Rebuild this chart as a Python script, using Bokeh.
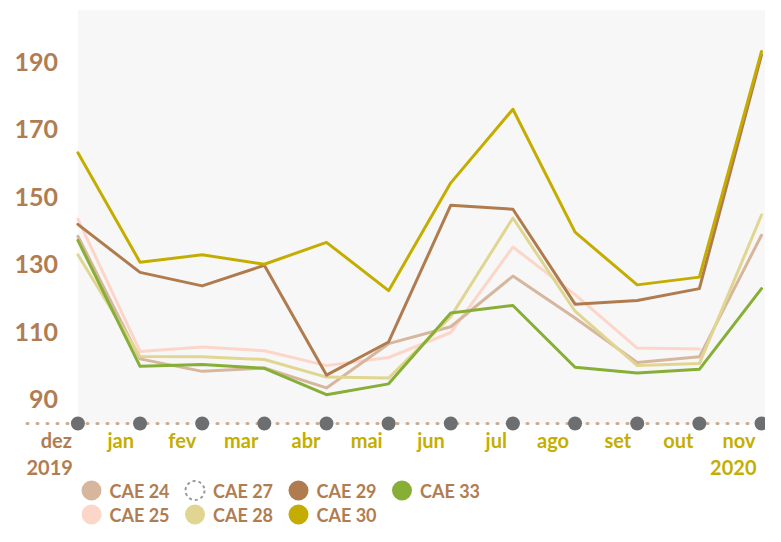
import numpy as np
from bokeh.plotting import figure
from bokeh.models import ColumnDataSource, Range1d
from bokeh.core.properties import value
from bokeh.embed import file_html
from bokeh.resources import INLINE

# ---------------- data ----------------
months = ["dez", "jan", "fev", "mar", "abr", "mai", "jun", "jul", "ago", "set", "out", "nov"]
year_labels = ["2019", "2020"]
y_ticks = [90, 110, 130, 150, 170, 190]

cae24 = [138.3, 102.0, 98.3, 99.3, 93.4, 106.5, 111.5, 126.5, 114.1, 100.9, 102.6, 138.6]
cae25 = [143.4, 104.2, 105.5, 104.4, 100.0, 102.4, 109.8, 135.1, 121.0, 105.2, 104.9, None]
cae28 = [132.8, 102.7, 102.6, 101.8, 96.6, 96.3, 114.5, 143.7, 116.1, 100.0, 100.6, 144.6]
cae29 = [141.8, 127.6, 123.6, 129.7, 97.2, 107.0, 147.5, 146.3, 118.2, 119.3, 122.8, 192.0]
cae30 = [163.0, 130.6, 132.8, 130.0, 136.5, 122.2, 154.1, 175.9, 139.5, 123.9, 126.2, 193.0]
cae33 = [137.1, 99.8, 100.3, 99.2, 91.4, 94.6, 115.6, 117.8, 99.5, 97.8, 98.9, 122.8]

series_colors = {
    "CAE 24": "#d6b79d",
    "CAE 25": "#fcd6c9",
    "CAE 27": "#9a9a9a",
    "CAE 28": "#e0d691",
    "CAE 29": "#b07c4f",
    "CAE 30": "#c4ad00",
    "CAE 33": "#87ae36",
}
series_values = {
    "CAE 24": cae24,
    "CAE 25": cae25,
    "CAE 27": None,
    "CAE 28": cae28,
    "CAE 29": cae29,
    "CAE 30": cae30,
    "CAE 33": cae33,
}
legend_rows = [["CAE 24", "CAE 27", "CAE 29", "CAE 33"],
               ["CAE 25", "CAE 28", "CAE 30"]]

# ---------------- layout helpers ----------------
W, H = 765, 526
X0 = 77.4            # px of first month
X_LAST = 761.0       # px of last month
PX_X = (X_LAST - X0) / 11
Y190 = 61.1          # px (from top) of value 190
PX_Y = 3.378         # px per unit

def vy(px_from_top):
    return 190 - (px_from_top - Y190) / PX_Y

def vx(px_from_left):
    return (px_from_left - X0) / PX_X

BROWN = "#b07d52"
OLIVE = "#c4ae00"
FONT = value("Lato")

p = figure(width=W, height=H, output_backend="svg", toolbar_location=None,
           x_range=Range1d(vx(0), vx(W)), y_range=Range1d(vy(H), vy(0)),
           min_border=0, min_border_left=0, min_border_right=0,
           min_border_top=0, min_border_bottom=0)
p.axis.visible = False
p.grid.visible = False
p.outline_line_color = None
p.background_fill_color = "white"
p.border_fill_color = "white"

n = len(months)
idx = np.arange(n)

# plot background
p.quad(left=[0], right=[vx(W) + 1], bottom=[vy(424)], top=[vy(9.7)],
       fill_color="#f7f7f7", line_color=None)

# lines
for name in ["CAE 25", "CAE 24", "CAE 28", "CAE 33", "CAE 29", "CAE 30"]:
    vals = [np.nan if v is None else v for v in series_values[name]]
    src = ColumnDataSource(dict(x=idx, y=vals))
    p.line("x", "y", source=src, line_color=series_colors[name], line_width=3,
           line_join="round", line_cap="round")

# dotted baseline + month markers
base_y = vy(423)
p.line([vx(26.5), vx(W) + 1], [base_y, base_y], line_color="#c9ab8e",
       line_width=3, line_dash="1 9", line_cap="round")
p.scatter(idx, [base_y] * n, size=14, fill_color="#6d6e70", line_color=None)

# month labels
month_colors = [BROWN] + [OLIVE] * (n - 1)
msrc = ColumnDataSource(dict(x=idx, y=[vy(439)] * n, t=months, c=month_colors))
p.text("x", "y", text="t", source=msrc, text_color="c", text_font=FONT,
       text_font_style="bold", text_font_size="20px", text_align="right",
       text_baseline="middle", x_offset=-6)

# year labels
ysrc = ColumnDataSource(dict(x=[0, n - 1], y=[vy(467)] * 2, t=year_labels, c=[BROWN, OLIVE]))
p.text("x", "y", text="t", source=ysrc, text_color="c", text_font=FONT,
       text_font_style="bold", text_font_size="20px", text_align="right",
       text_baseline="middle", x_offset=-5)

# y tick labels
tsrc = ColumnDataSource(dict(x=[0] * len(y_ticks), y=y_ticks, t=[str(t) for t in y_ticks]))
p.text("x", "y", text="t", source=tsrc, text_color=BROWN, text_font=FONT,
       text_font_style="bold", text_font_size="25px", text_align="right",
       text_baseline="middle", x_offset=-20)

# legend
LEG_X0 = 91.0
LEG_STEP = 103.5
LEG_ROW_Y = [490.0, 514.0]
for r, row in enumerate(legend_rows):
    for c, name in enumerate(row):
        cx = vx(LEG_X0 + c * LEG_STEP)
        cy = vy(LEG_ROW_Y[r])
        if series_values[name] is None:
            p.scatter([cx], [cy], size=19, fill_color=None, line_color="#9a9a9a",
                      line_width=2, line_dash="3 3")
        else:
            p.scatter([cx], [cy], size=20, fill_color=series_colors[name], line_color=None)
        p.text([cx], [cy], text=[name], text_color=BROWN, text_font=FONT,
               text_font_style="bold", text_font_size="18px", text_align="left",
               text_baseline="middle", x_offset=18)

open("out.html", "w").write(file_html(p, INLINE))
